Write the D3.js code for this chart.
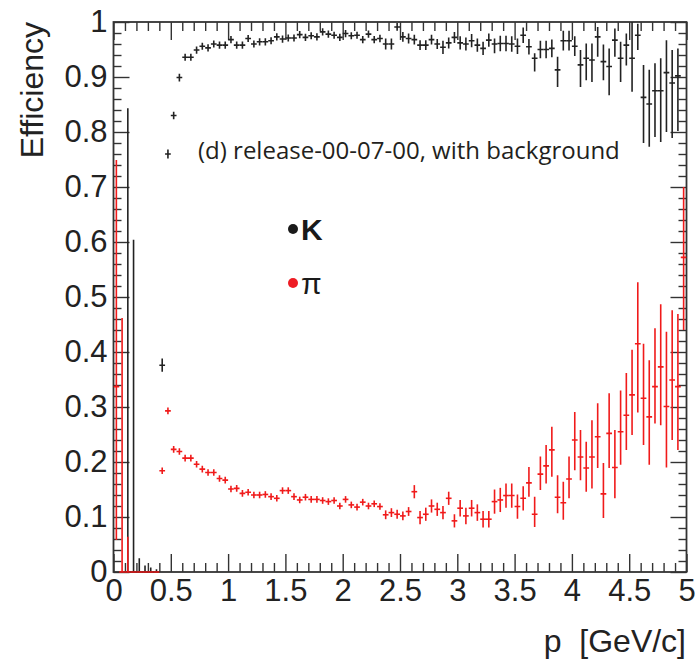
<!DOCTYPE html>
<html>
<head>
<meta charset="utf-8">
<script src="https://cdn.jsdelivr.net/npm/d3@7"></script>
<style>
  body { margin: 0; background: #fff; }
  svg { display: block; }
  .tick text { font-family: "Liberation Sans", Arial, sans-serif; font-size: 31px; fill: #222; }
  .tick line { stroke: #333; stroke-width: 1.4; }
</style>
</head>
<body>
<svg id="chart" width="695" height="671"></svg>
<script>
// momentum bins: 100 bins of 0.05 GeV/c between 0 and 5
var nBins = 100, binWidth = 0.05;

var xTicks = [0, 0.5, 1, 1.5, 2, 2.5, 3, 3.5, 4, 4.5, 5];
var yTicks = [0, 0.1, 0.2, 0.3, 0.4, 0.5, 0.6, 0.7, 0.8, 0.9, 1];

// kaon efficiency per bin (null = empty bin)
var kEff = [null, null, 0, 0, 0, 0, 0, 0, 0.376, 0.760, 0.830, 0.899, 0.936, 0.936, 0.949, 0.956, 0.953, 0.960, 0.958, 0.958,
    0.968, 0.958, 0.958, 0.970, 0.960, 0.964, 0.964, 0.966, 0.973, 0.969, 0.971, 0.971, 0.977, 0.972, 0.975, 0.973, 0.982, 0.978, 0.976, 0.972,
    0.979, 0.975, 0.976, 0.968, 0.978, 0.968, 0.970, 0.960, 0.960, 0.991, 0.973, 0.970, 0.968, 0.958, 0.958, 0.968, 0.960, 0.954, 0.962, 0.972,
    0.962, 0.960, 0.966, 0.958, 0.952, 0.967, 0.960, 0.961, 0.961, 0.960, 0.956, 0.976, 0.955, 0.934, 0.950, 0.950, 0.952, 0.913, 0.966, 0.966,
    0.956, 0.922, 0.934, 0.931, 0.973, 0.928, 0.919, 0.967, 0.934, 0.958, 0.934, 0.976, 0.863, 0.851, 0.875, 0.875, 0.908, 0.889, 0.902, null];
var kErrLo = [0, 0, 0, 0, 0, 0, 0, 0, 0.012, 0.008, 0.007, 0.007, 0.0065, 0.0065, 0.0065, 0.0065, 0.0065, 0.0065, 0.0065, 0.0065,
    0.0065, 0.0065, 0.0065, 0.0065, 0.0065, 0.0065, 0.0065, 0.0065, 0.0065, 0.0065, 0.0065, 0.0065, 0.0065, 0.0065, 0.0065, 0.0065, 0.0065, 0.0065, 0.0065, 0.0065,
    0.0065, 0.0065, 0.0065, 0.0065, 0.0065, 0.0065, 0.007, 0.010, 0.010, 0.007, 0.009, 0.009, 0.009, 0.009, 0.009, 0.009, 0.009, 0.012, 0.010, 0.010,
    0.012, 0.012, 0.012, 0.012, 0.012, 0.012, 0.017, 0.014, 0.014, 0.014, 0.014, 0.014, 0.014, 0.024, 0.016, 0.016, 0.016, 0.031, 0.018, 0.018,
    0.018, 0.040, 0.040, 0.040, 0.036, 0.034, 0.052, 0.030, 0.043, 0.037, 0.061, 0.027, 0.083, 0.078, 0.084, 0.093, 0.108, 0.100, 0.100, 0];
var kErrHi = [0, 0, 0.843, 0.604, 0.025, 0.012, 0.008, 0.005, 0.012, 0.008, 0.007, 0.007, 0.0065, 0.0065, 0.0065, 0.0065, 0.0065, 0.0065, 0.0065, 0.0065,
    0.0065, 0.0065, 0.0065, 0.0065, 0.0065, 0.0065, 0.0065, 0.0065, 0.0065, 0.0065, 0.0065, 0.0065, 0.0065, 0.0065, 0.0065, 0.0065, 0.0065, 0.0065, 0.0065, 0.0065,
    0.0065, 0.0065, 0.0065, 0.0065, 0.0065, 0.0065, 0.007, 0.010, 0.010, 0.007, 0.009, 0.009, 0.009, 0.009, 0.009, 0.009, 0.009, 0.012, 0.010, 0.010,
    0.012, 0.012, 0.012, 0.012, 0.012, 0.012, 0.010, 0.014, 0.014, 0.014, 0.014, 0.014, 0.014, 0.009, 0.016, 0.016, 0.016, 0.024, 0.018, 0.018,
    0.018, 0.027, 0.027, 0.030, 0.018, 0.031, 0.033, 0.021, 0.030, 0.021, 0.066, 0.021, 0.059, 0.062, 0.050, 0.059, 0.059, 0.060, 0.050, 0];

// pion efficiency per bin
var piEff = [0.337, 0, 0, 0, 0, 0, 0, 0, 0.184, 0.293, 0.223, 0.219, 0.207, 0.207, 0.196, 0.187, 0.181, 0.181, 0.170, 0.167,
    0.151, 0.152, 0.143, 0.145, 0.140, 0.140, 0.141, 0.137, 0.134, 0.148, 0.148, 0.137, 0.131, 0.136, 0.132, 0.132, 0.130, 0.128, 0.130, 0.120,
    0.132, 0.122, 0.118, 0.127, 0.120, 0.124, 0.119, 0.104, 0.108, 0.105, 0.102, 0.110, 0.146, 0.099, 0.105, 0.120, 0.114, 0.108, 0.134, 0.093,
    0.116, 0.102, 0.116, 0.108, 0.096, 0.096, 0.128, 0.131, 0.139, 0.139, 0.119, 0.134, 0.162, 0.105, 0.178, 0.193, 0.222, 0.136, 0.126, 0.169,
    0.240, 0.209, 0.189, 0.209, 0.246, 0.142, 0.252, 0.190, 0.255, 0.285, 0.322, 0.415, 0.316, 0.282, 0.337, 0.373, 0.301, 0.349, 0.337, 0.572];
var piErrLo = [0.279, 0, 0, 0, 0, 0, 0, 0, 0.006, 0.006, 0.006, 0.006, 0.006, 0.006, 0.006, 0.006, 0.006, 0.006, 0.006, 0.006,
    0.006, 0.006, 0.006, 0.006, 0.006, 0.006, 0.006, 0.006, 0.006, 0.006, 0.006, 0.006, 0.006, 0.006, 0.006, 0.006, 0.006, 0.006, 0.006, 0.006,
    0.006, 0.006, 0.006, 0.006, 0.006, 0.006, 0.006, 0.008, 0.008, 0.008, 0.008, 0.008, 0.012, 0.012, 0.012, 0.012, 0.012, 0.012, 0.012, 0.012,
    0.015, 0.015, 0.015, 0.015, 0.015, 0.015, 0.022, 0.022, 0.022, 0.022, 0.022, 0.022, 0.025, 0.023, 0.029, 0.032, 0.049, 0.029, 0.031, 0.035,
    0.055, 0.042, 0.043, 0.057, 0.057, 0.044, 0.063, 0.056, 0.060, 0.063, 0.073, 0.125, 0.085, 0.087, 0.067, 0.106, 0.111, 0.109, 0.115, 0.132];
var piErrHi = [0.412, 0.462, 0.064, 0, 0, 0, 0, 0, 0.006, 0.006, 0.006, 0.006, 0.006, 0.006, 0.006, 0.006, 0.006, 0.006, 0.006, 0.006,
    0.006, 0.006, 0.006, 0.006, 0.006, 0.006, 0.006, 0.006, 0.006, 0.006, 0.006, 0.006, 0.006, 0.006, 0.006, 0.006, 0.006, 0.006, 0.006, 0.006,
    0.006, 0.006, 0.006, 0.006, 0.006, 0.006, 0.006, 0.008, 0.008, 0.008, 0.008, 0.008, 0.012, 0.012, 0.012, 0.012, 0.012, 0.012, 0.012, 0.012,
    0.015, 0.015, 0.015, 0.015, 0.015, 0.015, 0.022, 0.022, 0.022, 0.022, 0.022, 0.022, 0.029, 0.032, 0.032, 0.038, 0.042, 0.040, 0.038, 0.041,
    0.051, 0.049, 0.048, 0.067, 0.061, 0.056, 0.073, 0.068, 0.075, 0.077, 0.082, 0.112, 0.099, 0.103, 0.106, 0.114, 0.136, 0.127, 0.132, 0.128];

var svg = d3.select("#chart");

var x = d3.scaleLinear().domain([0, 5]).range([113.5, 686.5]);
var y = d3.scaleLinear().domain([0, 1]).range([572, 22]);

var xMinor = d3.range(0, 5.0001, 0.1).filter(function(v) { return Math.abs(v * 2 - Math.round(v * 2)) > 1e-6; });
var yMinor = d3.range(0, 1.0001, 0.02).filter(function(v) { return Math.abs(v * 10 - Math.round(v * 10)) > 1e-6; });

function noDomain(g) { g.select(".domain").remove(); }

// bottom axis (labels + major/minor ticks pointing inwards)
svg.append("g")
    .attr("transform", "translate(0," + y(0) + ")")
    .call(d3.axisBottom(x).tickValues(xTicks).tickSize(-18).tickPadding(7).tickFormat(d3.format("")))
    .call(noDomain);
svg.append("g")
    .attr("transform", "translate(0," + y(0) + ")")
    .call(d3.axisBottom(x).tickValues(xMinor).tickSize(-9).tickFormat(""))
    .call(noDomain);
// top axis
svg.append("g")
    .attr("transform", "translate(0," + y(1) + ")")
    .call(d3.axisTop(x).tickValues(xTicks).tickSize(-18).tickFormat(""))
    .call(noDomain);
svg.append("g")
    .attr("transform", "translate(0," + y(1) + ")")
    .call(d3.axisTop(x).tickValues(xMinor).tickSize(-9).tickFormat(""))
    .call(noDomain);
// left axis
svg.append("g")
    .attr("transform", "translate(" + x(0) + ",0)")
    .call(d3.axisLeft(y).tickValues(yTicks).tickSize(-16).tickPadding(6).tickFormat(d3.format("")))
    .call(noDomain);
svg.append("g")
    .attr("transform", "translate(" + x(0) + ",0)")
    .call(d3.axisLeft(y).tickValues(yMinor).tickSize(-8).tickFormat(""))
    .call(noDomain);
// right axis
svg.append("g")
    .attr("transform", "translate(" + x(5) + ",0)")
    .call(d3.axisRight(y).tickValues(yTicks).tickSize(-16).tickFormat(""))
    .call(noDomain);
svg.append("g")
    .attr("transform", "translate(" + x(5) + ",0)")
    .call(d3.axisRight(y).tickValues(yMinor).tickSize(-8).tickFormat(""))
    .call(noDomain);

// frame
svg.append("rect")
    .attr("x", x(0)).attr("y", y(1))
    .attr("width", x(5) - x(0)).attr("height", y(0) - y(1))
    .attr("fill", "none").attr("stroke", "#333").attr("stroke-width", 1.8);

svg.append("clipPath").attr("id", "frameClip")
    .append("rect")
    .attr("x", x(0)).attr("y", y(1) - 1)
    .attr("width", x(5) - x(0)).attr("height", y(0) - y(1) + 2);

function drawSeries(vals, lo, hi, colour) {
    var pts = vals.map(function(v, i) {
        return { c: (i + 0.5) * binWidth, v: v, lo: lo[i], hi: hi[i] };
    }).filter(function(d) { return d.v !== null; });

    var g = svg.append("g")
        .attr("clip-path", "url(#frameClip)")
        .attr("stroke", colour)
        .attr("stroke-width", 1.6);

    g.selectAll("line.h")
        .data(pts)
        .enter().append("line")
        .attr("class", "h")
        .attr("x1", function(d) { return x(d.c - binWidth / 2); })
        .attr("x2", function(d) { return x(d.c + binWidth / 2); })
        .attr("y1", function(d) { return y(d.v); })
        .attr("y2", function(d) { return y(d.v); });

    g.selectAll("line.v")
        .data(pts)
        .enter().append("line")
        .attr("class", "v")
        .attr("x1", function(d) { return x(d.c); })
        .attr("x2", function(d) { return x(d.c); })
        .attr("y1", function(d) { return y(Math.max(0, d.v - d.lo) ); })
        .attr("y2", function(d) { return y(Math.min(1, d.v + d.hi)); });
}

drawSeries(kEff, kErrLo, kErrHi, "#222");
drawSeries(piEff, piErrLo, piErrHi, "#f01a1a");

// annotation
svg.append("text")
    .attr("x", 198).attr("y", 159)
    .style("font-family", "'Open Sans', sans-serif")
    .style("font-size", "24px")
    .attr("fill", "#231f20")
    .text("(d) release-00-07-00, with background");

// legend
var legend = [
    { label: "K", colour: "#1a1a1a", y: 229, weight: "bold" },
    { label: "\u03c0", colour: "#ee1c24", y: 283, weight: "normal" }
];
var lg = svg.append("g").selectAll("g").data(legend).enter().append("g");
lg.append("circle")
    .attr("cx", 293).attr("cy", function(d) { return d.y; })
    .attr("r", 5)
    .attr("fill", function(d) { return d.colour; });
lg.append("text")
    .attr("x", 301).attr("y", function(d) { return d.y + 11; })
    .style("font-family", "'Liberation Sans', Arial, sans-serif")
    .style("font-size", "30px")
    .style("font-weight", function(d) { return d.weight; })
    .attr("fill", "#1a1a1a")
    .text(function(d) { return d.label; });

// axis titles
svg.append("text")
    .attr("transform", "translate(43,22) rotate(-90)")
    .attr("text-anchor", "end")
    .style("font-family", "'Liberation Sans', Arial, sans-serif")
    .style("font-size", "32px")
    .attr("fill", "#222")
    .text("Efficiency");

svg.append("text")
    .attr("x", 686).attr("y", 652)
    .attr("text-anchor", "end")
    .style("font-family", "'Liberation Sans', Arial, sans-serif")
    .style("font-size", "32px")
    .style("white-space", "pre")
    .attr("fill", "#222")
    .text("p  [GeV/c]");
</script>
</body>
</html>
